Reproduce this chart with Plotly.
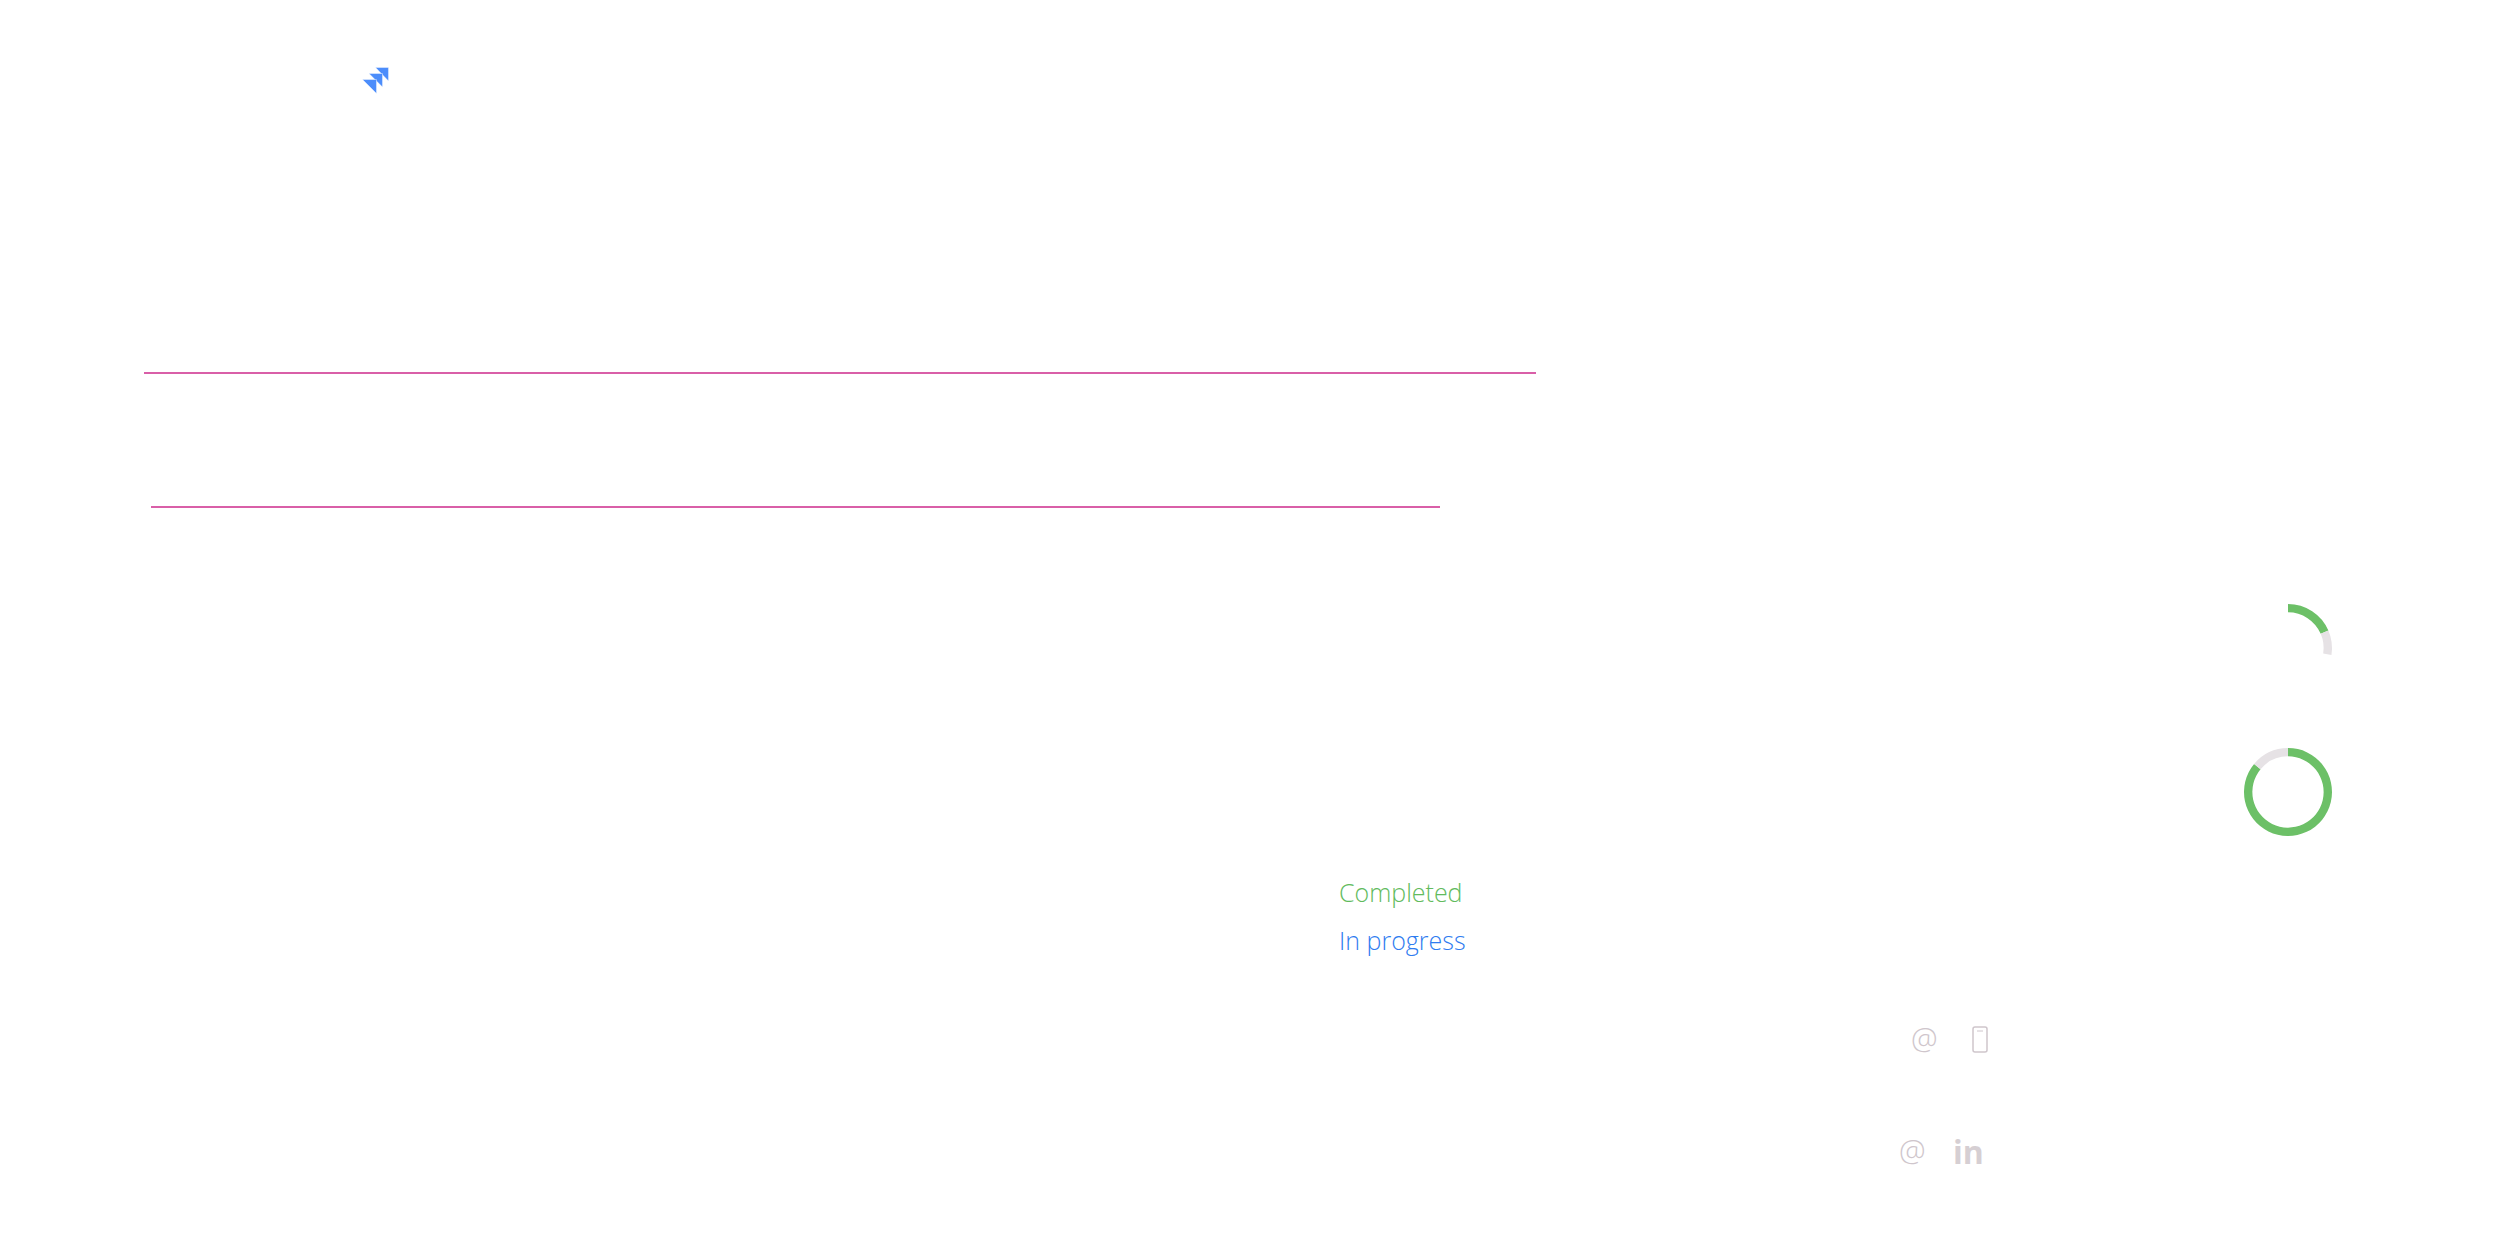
import plotly.graph_objects as go

# progress rings: completed / remaining / hidden part
ring_labels = ["Completed", "Remaining", "Hidden"]
ring_top_values = [18.5, 9, 72.5]
ring_bottom_values = [86, 14, 0]

# pink rules, values in page pixels
rule_top_x = [144, 1536]
rule_top_y = [373, 373]
rule_bottom_x = [151, 1440]
rule_bottom_y = [507, 507]

# logo chevrons
logo_back_x = [375.5, 388.5, 388.5, 375.5]
logo_back_y = [67.5, 67.5, 81, 67.5]
logo_mid_x = [369, 382.5, 382.5, 369]
logo_mid_y = [73.5, 73.5, 87, 73.5]
logo_front_x = [362.5, 376.5, 376.5, 362.5]
logo_front_y = [79.5, 79.5, 93.5, 79.5]

status_labels = ["Completed", "In progress"]
status_colors = ["#62bb5d", "#2f7cf0"]

GREEN = "#6cc067"
GREY = "#e6e2e5"
PINK = "#d95fa8"
BLUE = "#4c8dfb"
ICON = "#cfc6cc"

# the page body has an 8px margin
W, H = 2480, 1220
OFFSET = 8


def ring_domain(cx, cy, r):
    return dict(
        x=[(cx - r - OFFSET) / W, (cx + r - OFFSET) / W],
        y=[1 - (cy + r - OFFSET) / H, 1 - (cy - r - OFFSET) / H],
    )


fig = go.Figure()

for xs, ys in [(rule_top_x, rule_top_y), (rule_bottom_x, rule_bottom_y)]:
    fig.add_trace(go.Scatter(x=xs, y=ys, mode="lines", line=dict(color=PINK, width=2.2),
                             showlegend=False, hoverinfo="skip"))

for xs, ys in [(logo_back_x, logo_back_y), (logo_mid_x, logo_mid_y), (logo_front_x, logo_front_y)]:
    fig.add_trace(go.Scatter(x=xs, y=ys, mode="lines", fill="toself", fillcolor=BLUE,
                             line=dict(color="white", width=0.4),
                             showlegend=False, hoverinfo="skip"))

for values, center in [(ring_top_values, (2288, 648)), (ring_bottom_values, (2288, 792))]:
    fig.add_trace(go.Pie(
        labels=ring_labels, values=values, hole=0.81, sort=False, direction="clockwise",
        rotation=0, textinfo="none", hoverinfo="skip", showlegend=False,
        marker=dict(colors=[GREEN, GREY, "rgba(0,0,0,0)"], line=dict(width=0)),
        domain=ring_domain(center[0], center[1], 44),
    ))

for label, color, y in zip(status_labels, status_colors, [892, 940]):
    fig.add_annotation(x=1337, y=y, text=label, showarrow=False, xanchor="left", yanchor="middle",
                       font=dict(family="Open Sans", size=25, weight=300, color=color))

# contact icons
for x, y in [(1924, 1037), (1912, 1149)]:
    fig.add_annotation(x=x, y=y, text="@", showarrow=False, xanchor="center", yanchor="middle",
                       font=dict(family="Open Sans", size=30, weight=300, color=ICON))
fig.add_annotation(x=1968, y=1151, text="<b>in</b>", showarrow=False, xanchor="center", yanchor="middle",
                   font=dict(family="Open Sans", size=32, color="#d6cfd3"))
fig.add_shape(type="path", xref="x", yref="y", line=dict(color=ICON, width=1.5),
              path="M1975,1027 L1985,1027 Q1987,1027 1987,1029 L1987,1050 Q1987,1052 1985,1052 "
                   "L1975,1052 Q1973,1052 1973,1050 L1973,1029 Q1973,1027 1975,1027 Z")
fig.add_shape(type="line", xref="x", yref="y", x0=1977, x1=1983, y0=1031, y1=1031,
              line=dict(color=ICON, width=1))

fig.update_layout(
    width=W, height=H, autosize=False, margin=dict(l=0, r=0, t=0, b=0),
    paper_bgcolor="white", plot_bgcolor="white", showlegend=False,
    xaxis=dict(range=[OFFSET, W + OFFSET], visible=False, fixedrange=True),
    yaxis=dict(range=[H + OFFSET, OFFSET], visible=False, fixedrange=True),
)

fig.write_html("out.html", config=dict(displayModeBar=False))
